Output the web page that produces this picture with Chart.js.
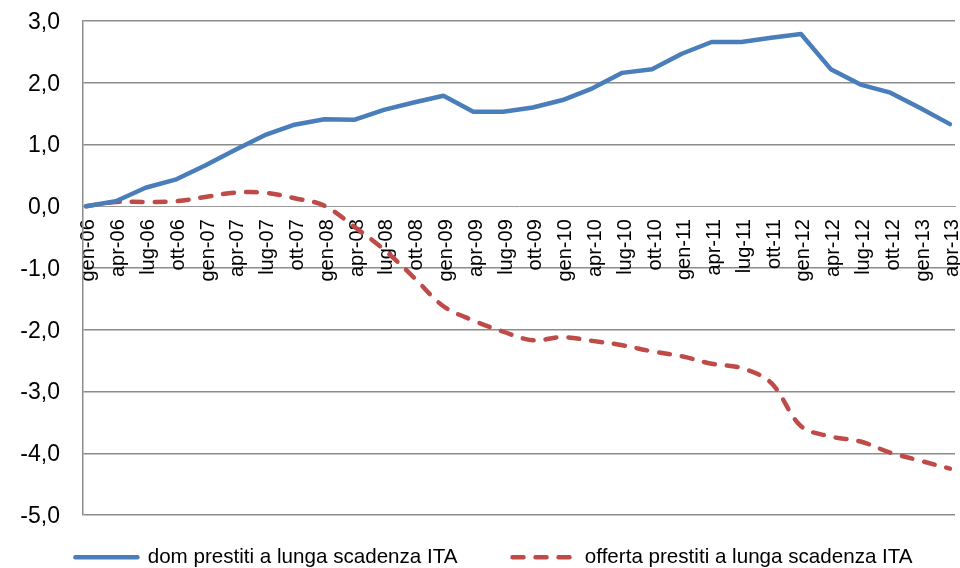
<!DOCTYPE html>
<html>
<head>
<meta charset="utf-8">
<script src="https://cdn.jsdelivr.net/npm/chart.js@4.4.1/dist/chart.umd.min.js"></script>
<style>
  html, body { margin: 0; padding: 0; background: #fff; }
  #wrap { width: 960px; height: 568px; position: relative; }
</style>
</head>
<body>
<div id="wrap"><canvas id="c" width="960" height="568"></canvas></div>
<script>
const categories = ['gen-06','apr-06','lug-06','ott-06','gen-07','apr-07','lug-07','ott-07',
  'gen-08','apr-08','lug-08','ott-08','gen-09','apr-09','lug-09','ott-09',
  'gen-10','apr-10','lug-10','ott-10','gen-11','apr-11','lug-11','ott-11',
  'gen-12','apr-12','lug-12','ott-12','gen-13','apr-13'];

const domPrestiti = [0.00, 0.08, 0.30, 0.43, 0.66, 0.91, 1.15, 1.32,
  1.41, 1.40, 1.56, 1.68, 1.79, 1.53, 1.53, 1.60,
  1.72, 1.91, 2.16, 2.22, 2.47, 2.66, 2.66, 2.73,
  2.79, 2.22, 1.97, 1.84, 1.59, 1.33];

const offertaPrestiti = [0.00, 0.07, 0.07, 0.08, 0.15, 0.22, 0.22, 0.13,
  0.01, -0.33, -0.70, -1.15, -1.62, -1.85, -2.03, -2.17,
  -2.12, -2.18, -2.25, -2.35, -2.43, -2.55, -2.62, -2.86,
  -3.56, -3.73, -3.81, -3.99, -4.12, -4.25];

const yTicks = [3, 2, 1, 0, -1, -2, -3, -4, -5];
const seriesNames = ['dom prestiti a lunga scadenza ITA', 'offerta prestiti a lunga scadenza ITA'];

const FONT = "'Liberation Sans', Arial, sans-serif";

const toPoints = (arr) => arr.map((v, i) => ({ x: i, y: v }));

const legendShift = {
  id: 'legendShift',
  afterLayout(chart) {
    const lg = chart.legend;
    if (!lg) return;
    lg.top = 492;
    lg.bottom = 568;
    lg.height = lg.bottom - lg.top;
    lg.left = 14;
    lg.right = 974;
  }
};

new Chart(document.getElementById('c'), {
  type: 'line',
  data: {
    datasets: [
      {
        label: seriesNames[0],
        data: toPoints(domPrestiti),
        borderColor: '#4A7EBB',
        backgroundColor: '#4A7EBB',
        borderWidth: 4.5,
        borderCapStyle: 'round',
        borderJoinStyle: 'round',
        pointRadius: 0,
        tension: 0,
        fill: false,
        clip: false
      },
      {
        label: seriesNames[1],
        data: toPoints(offertaPrestiti),
        borderColor: '#BE4B48',
        backgroundColor: '#BE4B48',
        borderWidth: 4.5,
        borderDash: [11, 12],
        borderCapStyle: 'round',
        borderJoinStyle: 'round',
        pointRadius: 0,
        tension: 0.35,
        fill: false,
        clip: false
      }
    ]
  },
  plugins: [legendShift],
  options: {
    responsive: false,
    animation: false,
    devicePixelRatio: 1,
    layout: { padding: { left: 0, right: 5, top: 21, bottom: 23 } },
    plugins: {
      tooltip: { enabled: false },
      legend: {
        display: true,
        position: 'bottom',
        maxHeight: 30,
        labels: {
          usePointStyle: true,
          pointStyle: 'line',
          pointStyleWidth: 62,
          boxHeight: 20,
          padding: 55,
          color: '#000',
          font: { family: FONT, size: 20.6 },
          sort: (a, b) => a.datasetIndex - b.datasetIndex,
          generateLabels: (chart) => Chart.defaults.plugins.legend.labels.generateLabels(chart).map(l => {
            const ds = chart.data.datasets[l.datasetIndex];
            l.lineDash = ds.borderDash || [];
            l.lineCap = 'round';
            l.lineWidth = ds.borderWidth;
            l.strokeStyle = ds.borderColor;
            return l;
          })
        }
      }
    },
    scales: {
      x: {
        type: 'linear',
        position: { y: 0 },
        min: -0.1,
        max: 29.17,
        afterBuildTicks: (s) => { s.ticks = categories.map((c, i) => ({ value: i })); },
        afterFit: (s) => { s.paddingLeft = 0; s.paddingRight = 0; },
        grid: { display: false, drawTicks: false },
        border: { display: true, color: '#9a9a9a', width: 1, dash: [4, 3] },
        ticks: {
          autoSkip: false,
          maxRotation: 90,
          minRotation: 90,
          padding: 13,
          labelOffset: 3,
          color: '#000',
          font: { family: FONT, size: 20 },
          callback: (v) => categories[Math.round(v)]
        }
      },
      y: {
        min: -5,
        max: 3,
        afterFit: (s) => { s.width = 83; s.paddingTop = 0; s.paddingBottom = 0; },
        afterBuildTicks: (s) => { s.ticks = yTicks.map(v => ({ value: v })); },
        grid: {
          drawTicks: false,
          color: (ctx) => (ctx.tick && ctx.tick.value === 0) ? 'rgba(0,0,0,0)' : '#8c8c8c',
          lineWidth: 1.5
        },
        border: { display: true, color: '#8c8c8c', width: 1.5 },
        ticks: {
          padding: 23,
          labelOffset: 1.5,
          color: '#000',
          font: { family: FONT, size: 23 },
          callback: (v) => Number(v).toFixed(1).replace('.', ',')
        }
      }
    }
  }
});
</script>
</body>
</html>
